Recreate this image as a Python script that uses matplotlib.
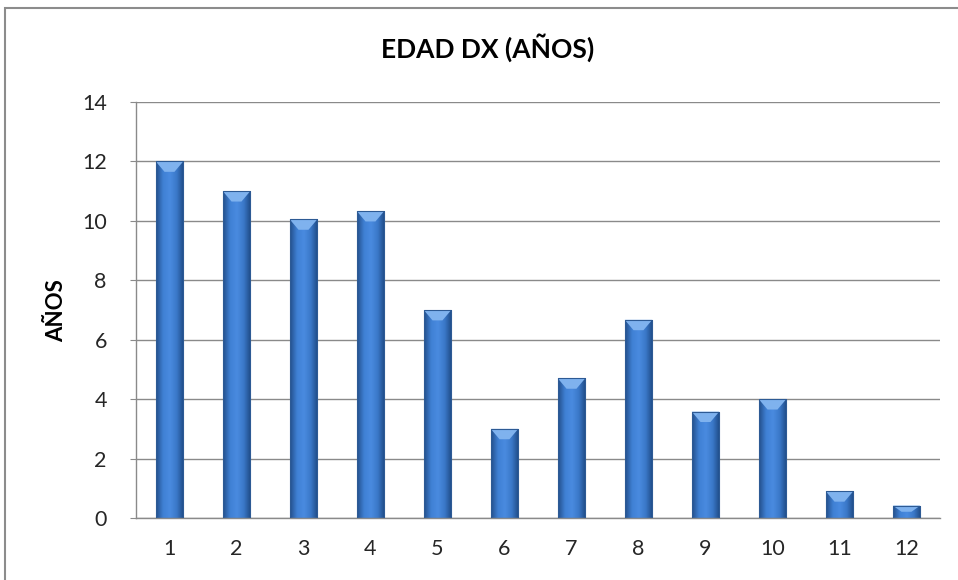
import matplotlib
matplotlib.use("Agg")
import matplotlib.pyplot as plt
import numpy as np
from matplotlib.patches import Rectangle
from matplotlib.colors import LinearSegmentedColormap

categories = ["1", "2", "3", "4", "5", "6", "7", "8", "9", "10", "11", "12"]
values = [12.0, 11.0, 10.05, 10.33, 7.0, 3.0, 4.7, 6.67, 3.58, 4.0, 0.9, 0.42]
yticks = [0, 2, 4, 6, 8, 10, 12, 14]

plt.rcParams['font.family'] = ['Lato', 'DejaVu Sans']

fig = plt.figure(figsize=(9.58, 5.8), dpi=100)
fig.patch.set_facecolor('white')
# outer chart border
fig.patches.append(Rectangle((5/958, -0.01), 1.0, 1 - 8/580 + 0.01, transform=fig.transFigure,
                             fill=False, edgecolor='#8c8c8c', linewidth=1.5))

ax = fig.add_axes([136/958, 62/580, (940-136)/958, (518-102)/580])
x = np.arange(1, len(values) + 1)
width = 0.41

cmap = LinearSegmentedColormap.from_list('bar', ['#234f8c', '#3f80d4', '#4a8be0', '#3a78c8', '#1f4a85'])
grad = np.linspace(0, 1, 64).reshape(1, -1)

bars = ax.bar(x, values, width=width, color='none', edgecolor='#2d5a94', linewidth=0.8, zorder=3)
for b in bars:
    x0, y0 = b.get_x(), b.get_y()
    w, h = b.get_width(), b.get_height()
    im = ax.imshow(grad, cmap=cmap, aspect='auto', extent=[x0, x0 + w, y0, y0 + h],
                   zorder=2.5, interpolation='bicubic')
    im.set_clip_path(b)
    # bevel highlight at top
    th = min(0.35, h * 0.5)
    ax.fill([x0, x0 + w, x0 + w * 0.68, x0 + w * 0.32], [y0 + h, y0 + h, y0 + h - th, y0 + h - th],
            color='#7fb2ee', zorder=2.7, linewidth=0)

ax.set_xlim(0.5, 12.5)
ax.set_ylim(0, 14)
ax.set_yticks(yticks)
ax.set_xticks(x)
ax.set_xticklabels(categories)
ax.grid(axis='y', color='#8a8a8a', linewidth=1.0, zorder=0)
ax.set_axisbelow(True)
for s in ['top', 'right']:
    ax.spines[s].set_visible(False)
for s in ['left', 'bottom']:
    ax.spines[s].set_color('#8a8a8a')
    ax.spines[s].set_linewidth(1.0)
ax.tick_params(axis='y', length=4, color='#8a8a8a', pad=17, labelsize=15.5, labelcolor='#262626')
ax.tick_params(axis='x', length=0, pad=15, labelsize=15.5, labelcolor='#262626')

fig.text(57/958, 1 - 311/580, 'AÑOS', ha='center', va='center', rotation=90,
         fontsize=16, fontweight='bold')
fig.text(488/958, 1 - 48/580, 'EDAD DX (AÑOS)', ha='center', va='center', fontsize=19, fontweight='bold')

fig.savefig('out.png', dpi=100)
